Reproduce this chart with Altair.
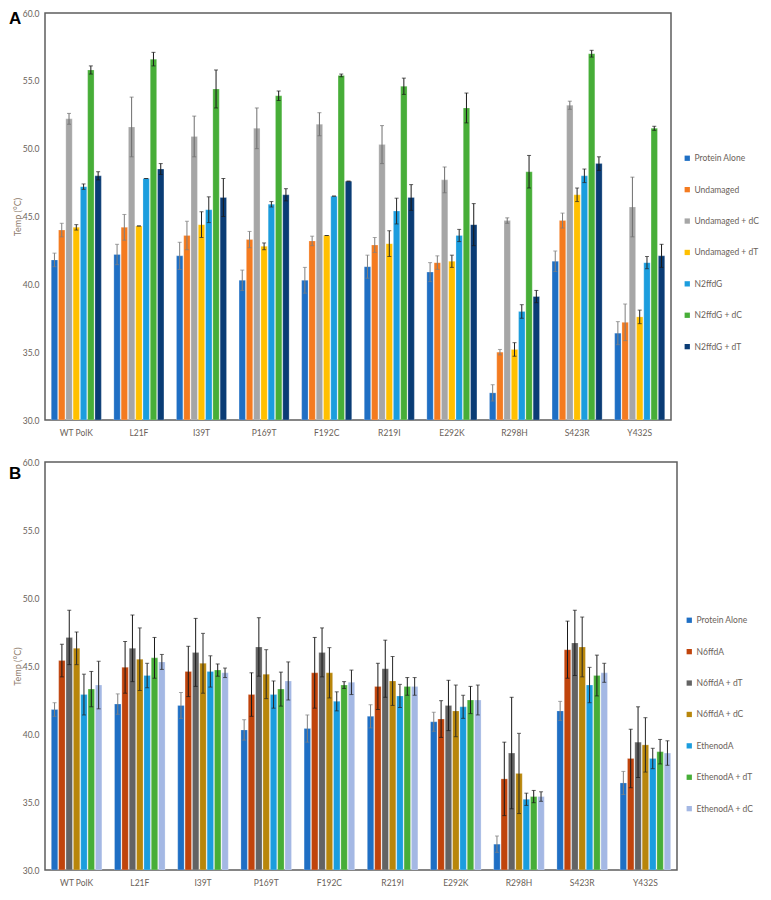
import altair as alt
import pandas as pd

groups = ["WT PolK", "L21F", "I39T", "P169T", "F192C", "R219I", "E292K", "R298H", "S423R", "Y432S"]

# ---- Panel A ----
a_series = ["Protein Alone", "Undamaged", "Undamaged + dC", "Undamaged + dT",
            "N2ffdG", "N2ffdG + dC", "N2ffdG + dT"]
a_colors = ["#1F6FC4", "#F47B20", "#A6A6A6", "#FFC000", "#1B9DDE", "#47AE38", "#0A3C75"]
a_errcolors = ["#7F7F7F", "#7F7F7F", "#6E6E6E", "#262626", "#262626", "#1A1A1A", "#1A1A1A"]
a_values = {
    "Protein Alone":  [41.8, 42.2, 42.1, 40.3, 40.3, 41.3, 40.9, 32.0, 41.7, 36.4],
    "Undamaged":      [44.0, 44.2, 43.6, 43.3, 43.2, 42.9, 41.6, 35.0, 44.7, 37.2],
    "Undamaged + dC": [52.2, 51.6, 50.9, 51.5, 51.8, 50.3, 47.7, 44.7, 53.2, 45.7],
    "Undamaged + dT": [44.2, 44.3, 44.4, 42.8, 43.6, 43.0, 41.7, 35.2, 46.6, 37.6],
    "N2ffdG":         [47.2, 47.8, 45.5, 45.9, 46.5, 45.4, 43.6, 38.0, 48.0, 41.6],
    "N2ffdG + dC":    [55.8, 56.6, 54.4, 53.9, 55.4, 54.6, 53.0, 48.3, 57.0, 51.5],
    "N2ffdG + dT":    [48.0, 48.5, 46.4, 46.6, 47.6, 46.4, 44.4, 39.1, 48.9, 42.1],
}
a_errors = {
    "Protein Alone":  [0.5, 0.75, 1.0, 0.75, 0.95, 0.85, 0.7, 0.6, 0.75, 0.85],
    "Undamaged":      [0.5, 0.95, 1.05, 0.6, 0.35, 0.55, 0.5, 0.2, 0.55, 1.35],
    "Undamaged + dC": [0.4, 2.2, 1.5, 1.5, 0.85, 1.4, 0.95, 0.2, 0.3, 2.2],
    "Undamaged + dT": [0.2, 0.0, 0.95, 0.25, 0.0, 0.95, 0.45, 0.5, 0.5, 0.5],
    "N2ffdG":         [0.2, 0.0, 0.95, 0.2, 0.0, 0.95, 0.45, 0.5, 0.5, 0.45],
    "N2ffdG + dC":    [0.3, 0.5, 1.4, 0.35, 0.1, 0.6, 1.1, 1.2, 0.25, 0.15],
    "N2ffdG + dT":    [0.3, 0.4, 1.4, 0.45, 0.0, 0.95, 1.55, 0.45, 0.5, 0.85],
}

# ---- Panel B ----
b_series = ["Protein Alone", "N6ffdA", "N6ffdA + dT", "N6ffdA + dC",
            "EthenodA", "EthenodA + dT", "EthenodA + dC"]
b_colors = ["#1F6FC4", "#C0440C", "#636363", "#B8860B", "#1B9DDE", "#47AE38", "#A4B8E4"]
b_errcolors = ["#7F7F7F", "#1A1A1A", "#1A1A1A", "#262626", "#262626", "#1A1A1A", "#262626"]
b_values = {
    "Protein Alone": [41.8, 42.2, 42.1, 40.3, 40.4, 41.3, 40.9, 31.9, 41.7, 36.4],
    "N6ffdA":        [45.4, 44.9, 44.6, 42.9, 44.5, 43.5, 41.1, 36.7, 46.2, 38.2],
    "N6ffdA + dT":   [47.1, 46.3, 46.0, 46.4, 46.0, 44.8, 42.1, 38.6, 46.7, 39.4],
    "N6ffdA + dC":   [46.3, 45.5, 45.2, 44.4, 44.5, 43.9, 41.7, 37.1, 46.4, 39.2],
    "EthenodA":      [42.9, 44.3, 44.6, 42.9, 42.4, 42.8, 42.0, 35.2, 43.6, 38.2],
    "EthenodA + dT": [43.3, 45.6, 44.7, 43.3, 43.6, 43.5, 42.5, 35.4, 44.3, 38.7],
    "EthenodA + dC": [43.6, 45.3, 44.5, 43.9, 43.8, 43.5, 42.5, 35.4, 44.5, 38.6],
}
b_errors = {
    "Protein Alone": [0.5, 0.75, 0.95, 0.75, 1.0, 0.85, 0.7, 0.6, 0.7, 0.85],
    "N6ffdA":        [1.2, 1.9, 1.85, 1.6, 2.6, 1.7, 1.35, 2.7, 2.1, 2.15],
    "N6ffdA + dT":   [2.0, 2.45, 2.5, 2.15, 1.8, 2.1, 1.85, 4.1, 2.4, 2.6],
    "N6ffdA + dC":   [1.2, 2.3, 2.2, 1.8, 1.85, 1.8, 1.9, 2.95, 2.2, 2.0],
    "EthenodA":      [1.5, 0.9, 1.15, 1.0, 0.7, 0.85, 0.85, 0.45, 1.3, 0.75],
    "EthenodA + dT": [1.3, 1.5, 0.45, 1.25, 0.25, 0.65, 1.0, 0.45, 1.5, 0.9],
    "EthenodA + dC": [1.75, 0.55, 0.35, 1.4, 0.9, 0.65, 1.1, 0.35, 0.7, 0.9],
}

FONT = "Lato"
LABEL_COLOR = "#6A6159"
TITLE_COLOR = "#8E7C6C"
BOX_COLOR = "#5E5E5E"
FS = 8.5


def panel(series, colors, errcolors, values, errors, letter, width, height, legend_x, legend_y, letter_y):
    rows = []
    for s, ec in zip(series, errcolors):
        for g, v, e in zip(groups, values[s], errors[s]):
            rows.append({"group": g, "series": s, "value": v, "lo": v - e, "hi": v + e, "ecol": ec})
    df = pd.DataFrame(rows)

    x = alt.X("group:N", sort=groups,
              scale=alt.Scale(paddingInner=0.2, paddingOuter=0.1),
              axis=alt.Axis(title=None, labelAngle=0, domain=False, ticks=False,
                            labelPadding=8, labelColor=LABEL_COLOR, labelFontSize=FS, labelFont=FONT))
    xo = alt.XOffset("series:N", sort=series, scale=alt.Scale(paddingInner=0.12))
    yscale = alt.Scale(domain=[30, 60], zero=False)

    base = alt.Chart(df)
    bars = base.mark_bar(stroke="#FFFFFF", strokeWidth=0.4, strokeOpacity=0.6, clip=True).encode(
        x=x, xOffset=xo,
        y=alt.Y("value:Q", scale=yscale,
                axis=alt.Axis(values=[30, 35, 40, 45, 50, 55, 60], format=".1f", grid=False,
                              domain=False, ticks=False, labelPadding=6,
                              labelColor=LABEL_COLOR, labelFontSize=FS, labelFont=FONT,
                              title="Temp (°C)", titleColor=TITLE_COLOR, titleFont=FONT,
                              titleFontSize=9, titleFontWeight="normal", titlePadding=0)),
        y2=alt.datum(30),
        color=alt.Color("series:N", sort=series,
                        scale=alt.Scale(domain=series, range=colors),
                        legend=alt.Legend(title=None, orient="none", legendX=legend_x, legendY=legend_y,
                                          symbolType="square", symbolSize=28, symbolStrokeWidth=0,
                                          labelFontSize=FS, labelColor=LABEL_COLOR, labelFont=FONT,
                                          rowPadding=22.4, labelOffset=3, labelLimit=200)),
    )
    rules = base.mark_rule(strokeWidth=1).encode(
        x=x, xOffset=xo, y=alt.Y("lo:Q", scale=yscale), y2="hi:Q",
        color=alt.Color("ecol:N", scale=None),
    )
    cap_hi = base.mark_tick(size=4, thickness=1).encode(
        x=x, xOffset=xo, y=alt.Y("hi:Q", scale=yscale),
        color=alt.Color("ecol:N", scale=None),
    )
    cap_lo = base.mark_tick(size=4, thickness=1).encode(
        x=x, xOffset=xo, y=alt.Y("lo:Q", scale=yscale),
        color=alt.Color("ecol:N", scale=None),
    )
    letter_df = pd.DataFrame({"t": [letter]})
    text = alt.Chart(letter_df).mark_text(
        font="Liberation Sans", fontSize=17, fontWeight="bold", align="left", baseline="top",
        color="#000000",
    ).encode(text="t:N", x=alt.value(-36), y=alt.value(letter_y))

    return alt.layer(bars, rules, cap_hi, cap_lo, text).properties(
        width=width, height=height,
        view=alt.ViewBackground(stroke=BOX_COLOR, strokeWidth=1.5),
    )


chart_a = panel(a_series, a_colors, a_errcolors, a_values, a_errors, "A", 626, 407, 638, 141, -2)
chart_b = panel(b_series, b_colors, b_errcolors, b_values, b_errors, "B", 632, 408, 640, 154, 4)

chart = alt.vconcat(chart_a, chart_b, spacing=19, padding=0).resolve_scale(
    color="independent", x="independent", xOffset="independent"
).configure_view(stroke=BOX_COLOR, strokeWidth=1.5)

chart.save("out.html", embed_options={"renderer": "svg", "actions": False})
